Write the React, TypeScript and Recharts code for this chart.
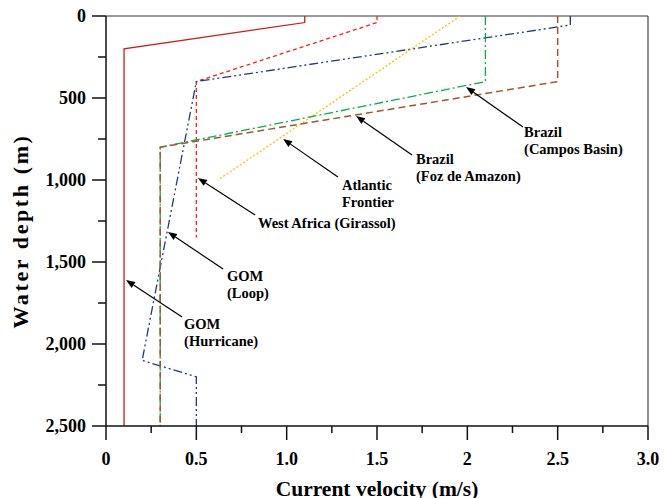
import React from 'react';
import { LineChart, Line, XAxis, YAxis, ReferenceLine, ReferenceDot } from 'recharts';

// velocity profiles: v = current velocity (m/s), d = water depth (m)
const gomHurricane = [
  { v: 1.1, d: 0 }, { v: 1.1, d: 40 }, { v: 0.1, d: 200 }, { v: 0.1, d: 2500 },
];
const westAfrica = [
  { v: 1.5, d: 0 }, { v: 1.5, d: 40 }, { v: 0.5, d: 400 }, { v: 0.5, d: 1350 },
];
const gomLoop = [
  { v: 2.57, d: 0 }, { v: 2.57, d: 55 }, { v: 0.5, d: 400 }, { v: 0.2, d: 2100 },
  { v: 0.5, d: 2200 }, { v: 0.5, d: 2500 },
];
const atlanticFrontier = [{ v: 1.96, d: 0 }, { v: 0.62, d: 1000 }];
const fozAmazon = [
  { v: 2.1, d: 0 }, { v: 2.1, d: 400 }, { v: 0.3, d: 800 }, { v: 0.3, d: 2500 },
];
const camposBasin = [
  { v: 2.5, d: 0 }, { v: 2.5, d: 400 }, { v: 0.3, d: 800 }, { v: 0.3, d: 2500 },
];

const xTicks = [0, 0.25, 0.5, 0.75, 1, 1.25, 1.5, 1.75, 2, 2.25, 2.5, 2.75, 3];
const xTickLabels: Record<string, string> = {
  '0': '0', '0.5': '0.5', '1': '1.0', '1.5': '1.5', '2': '2', '2.5': '2.5', '3': '3.0',
};
const yTicks = [0, 250, 500, 750, 1000, 1250, 1500, 1750, 2000, 2250, 2500];
const yMajor = [0, 500, 1000, 1500, 2000, 2500];

// callouts (text anchor + arrow tail/head, in data units)
const callouts = [
  { lines: ['Brazil', '(Campos Basin)'], tv: 2.314, td: 737, from: [2.308, 677], to: [1.993, 433] },
  { lines: ['Brazil', '(Foz de Amazon)'], tv: 1.716, td: 902, from: [1.694, 848], to: [1.384, 610] },
  { lines: ['Atlantic', 'Frontier'], tv: 1.306, td: 1061, from: [1.284, 982], to: [0.98, 750] },
  { lines: ['West Africa (Girassol)'], tv: 0.841, td: 1293, from: [0.825, 1213], to: [0.509, 988] },
  { lines: ['GOM', '(Loop)'], tv: 0.67, td: 1616, from: [0.648, 1543], to: [0.343, 1317] },
  { lines: ['GOM', '(Hurricane)'], tv: 0.432, td: 1909, from: [0.421, 1835], to: [0.111, 1610] },
];

const FONT = '"Liberation Serif", "Times New Roman", serif';
const AXIS = '#111';

const XTick = (p: any) => {
  const { x, y, payload } = p;
  const v = payload.value;
  const major = Math.abs(v * 2 - Math.round(v * 2)) < 1e-6;
  const axisY = y - 14 - 12;
  return (
    <g>
      <line x1={x} x2={x} y1={axisY} y2={axisY + (major ? 14 : 7)} stroke={AXIS} strokeWidth={1.5} />
      {major && (
        <text x={x} y={y} dy="0.71em" textAnchor="middle" style={{ fontFamily: FONT, fontWeight: 700 }} fontSize={18} fill="#000">
          {xTickLabels[String(v)]}
        </text>
      )}
    </g>
  );
};

const YTick = (p: any) => {
  const { x, y, payload } = p;
  const v = payload.value;
  const major = yMajor.includes(v);
  const axisX = x + 14 + 6;
  return (
    <g>
      <line x1={axisX - (major ? 14 : 8)} x2={axisX} y1={y} y2={y} stroke={AXIS} strokeWidth={1.5} />
      {major && (
        <text x={x} y={y} dy="0.36em" textAnchor="end" style={{ fontFamily: FONT, fontWeight: 700 }} fontSize={18} fill="#000">
          {v.toLocaleString('en-US')}
        </text>
      )}
    </g>
  );
};

const Arrow = (p: any) => {
  const { x1, y1, x2, y2 } = p;
  const ang = Math.atan2(y2 - y1, x2 - x1);
  const L = 9;
  const W = 3.5;
  const bx = x2 - L * Math.cos(ang);
  const by = y2 - L * Math.sin(ang);
  const px = -Math.sin(ang) * W;
  const py = Math.cos(ang) * W;
  return (
    <g>
      <line x1={x1} y1={y1} x2={bx} y2={by} stroke="#000" strokeWidth={1.2} />
      <polygon points={`${x2},${y2} ${bx + px},${by + py} ${bx - px},${by - py}`} fill="#000" />
    </g>
  );
};

export default function App() {
  return (
    <div style={{ position: 'absolute', left: 0, top: 0, background: '#fff' }}>
      <LineChart width={664} height={498} margin={{ top: 16, right: 16, bottom: 0, left: 0 }}>
        <XAxis
          type="number"
          dataKey="v"
          domain={[0, 3]}
          ticks={xTicks}
          interval={0}
          tickSize={14}
          tickMargin={12}
          tickLine={false}
          tick={<XTick />}
          axisLine={{ stroke: AXIS, strokeWidth: 1.5 }}
          height={72}
          label={{
            content: (lp: any) => {
              const vb = lp.viewBox || { x: 106, y: 426, width: 542, height: 72 };
              return (
                <text x={vb.x + vb.width / 2} y={vb.y + 70} textAnchor="middle" style={{ fontFamily: FONT, fontWeight: 700 }} fontSize={21.5} fill="#000">
                  Current velocity (m/s)
                </text>
              );
            },
          }}
        />
        <YAxis
          type="number"
          dataKey="d"
          domain={[0, 2500]}
          reversed
          ticks={yTicks}
          interval={0}
          tickSize={14}
          tickMargin={6}
          tickLine={false}
          tick={<YTick />}
          axisLine={{ stroke: AXIS, strokeWidth: 1.5 }}
          width={106}
          label={{
            content: () => (
              <text x={28} y={231} transform="rotate(-90 28 231)" textAnchor="middle" style={{ fontFamily: FONT, fontWeight: 700 }} fontSize={22} letterSpacing={2.6} fill="#000">
                Water depth (m)
              </text>
            ),
          }}
        />
        <ReferenceLine y={0} stroke="#777" strokeWidth={1.5} />
        <ReferenceLine x={3} stroke="#444" strokeWidth={1.2} />

        <Line data={gomHurricane} dataKey="d" type="linear" stroke="#c81e1e" strokeWidth={1.3} dot={false} isAnimationActive={false} />
        <Line data={westAfrica} dataKey="d" type="linear" stroke="#ff1a1a" strokeWidth={1.3} strokeDasharray="4 3" dot={false} isAnimationActive={false} />
        <Line data={gomLoop} dataKey="d" type="linear" stroke="#1f3c78" strokeWidth={1.3} strokeDasharray="9 3 2 3 2 3" dot={false} isAnimationActive={false} />
        <Line data={atlanticFrontier} dataKey="d" type="linear" stroke="#ffc000" strokeWidth={1.3} strokeDasharray="2 2" dot={false} isAnimationActive={false} />
        <Line data={fozAmazon} dataKey="d" type="linear" stroke="#00b050" strokeWidth={1.3} strokeDasharray="9 3 2 3" dot={false} isAnimationActive={false} />
        <Line data={camposBasin} dataKey="d" type="linear" stroke="#a0572b" strokeWidth={1.5} strokeDasharray="7 4" dot={false} isAnimationActive={false} />

        {callouts.map((c) => (
          <ReferenceLine
            key={'a' + c.lines[0] + c.lines[1]}
            segment={[{ x: c.from[0], y: c.from[1] }, { x: c.to[0], y: c.to[1] }]}
            ifOverflow="visible"
            shape={<Arrow />}
          />
        ))}
        {callouts.map((c) => (
          <ReferenceDot
            key={'t' + c.lines[0] + c.lines[1]}
            x={c.tv}
            y={c.td}
            ifOverflow="visible"
            shape={(p: any) => (
              <text x={p.cx} y={p.cy} style={{ fontFamily: FONT, fontWeight: 700 }} fontSize={14.5} fill="#000">
                {c.lines.map((l, i) => (
                  <tspan key={i} x={p.cx} dy={i ? 17 : 0}>{l}</tspan>
                ))}
              </text>
            )}
          />
        ))}
      </LineChart>
    </div>
  );
}
